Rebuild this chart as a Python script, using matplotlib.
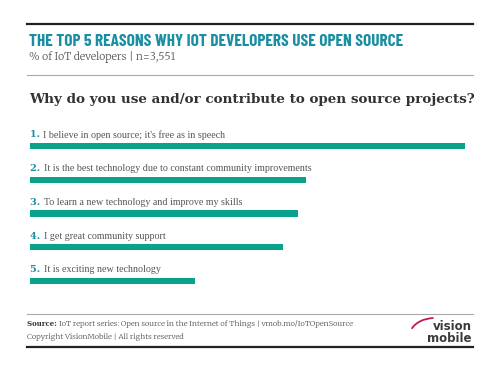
import matplotlib
matplotlib.use("Agg")
import matplotlib.pyplot as plt
from matplotlib import font_manager as fm
from matplotlib.patches import Arc

# data (bar lengths, relative)
numbers = ["1.", "2.", "3.", "4.", "5."]
reasons = [
    "I believe in open source; it's free as in speech",
    "It is the best technology due to constant community improvements",
    "To learn a new technology and improve my skills",
    "I get great community support",
    "It is exciting new technology",
]
values = [52, 33, 32, 30.2, 19.7]

teal_bar = "#0ba28c"
teal_txt = "#1a8ea2"
grey = "#555555"

installed = set(f.name for f in fm.fontManager.ttflist)
if "Barlow Condensed" in installed:
    title_font, title_size = "Barlow Condensed", 12.4
else:
    title_font, title_size = "DejaVu Sans", 7.6
serif = "Merriweather" if "Merriweather" in installed else "DejaVu Serif"

fig = plt.figure(figsize=(5, 3.65), dpi=100)
W, H = 500, 365

def fx(px):
    return px / W

def fy(py):
    return 1 - py / H

# rules
fig.add_artist(plt.Line2D([fx(27), fx(473)], [fy(24), fy(24)], color="#222222", lw=1.6))
fig.add_artist(plt.Line2D([fx(27), fx(473)], [fy(75), fy(75)], color="#aaaaaa", lw=0.8))
fig.add_artist(plt.Line2D([fx(27), fx(473)], [fy(314), fy(314)], color="#aaaaaa", lw=0.8))
fig.add_artist(plt.Line2D([fx(27), fx(473)], [fy(347), fy(347)], color="#222222", lw=1.6))

# headings
fig.text(fx(29), fy(42), "THE TOP 5 REASONS WHY IOT DEVELOPERS USE OPEN SOURCE",
         family=title_font, weight="bold", fontsize=title_size, color=teal_txt, va="center")
fig.text(fx(29), fy(57), "% of IoT developers | n=3,551", family=serif,
         fontsize=7.5, color=grey, va="center")
fig.text(fx(29), fy(100), "Why do you use and/or contribute to open source projects?",
         family="DejaVu Serif", weight="bold", fontsize=9.7, color="#333333", va="center")

# bars
ax = fig.add_axes([fx(30), fy(298), fx(465) - fx(30), (298 - 129) / H])
ypos = list(range(len(values)))
ax.barh(ypos, values, height=0.18, color=teal_bar)
ax.set_xlim(0, max(values))
ax.set_ylim(len(values) - 0.5, -0.5)
ax.axis("off")

for i in ypos:
    t = ax.text(0, i - 0.33, numbers[i] + " ", fontsize=7, color=teal_txt,
                weight="bold", family="DejaVu Serif", va="center")
    ax.annotate(reasons[i], xy=(1, 0.5), xycoords=t, va="center",
                fontsize=7.2, color=grey, family="Liberation Serif")

# footer
src = fig.text(fx(27), fy(324), "Source: ", family="DejaVu Serif", weight="bold",
               fontsize=5.0, color="#333333", va="center")
plt.annotate("IoT report series: Open source in the Internet of Things | vmob.mo/IoTOpenSource",
             xy=(1, 0.5), xycoords=src, va="center", fontsize=5.4,
             color=grey, family=serif, annotation_clip=False)
fig.text(fx(27), fy(337), "Copyright VisionMobile | All rights reserved",
         family=serif, fontsize=5.4, color=grey, va="center")

# logo
fig.text(fx(472), fy(327), "vision", family="DejaVu Sans", weight="bold",
         fontsize=8.5, color="#3a3a3a", ha="right", va="center")
fig.text(fx(472), fy(339), "mobile", family="DejaVu Sans", weight="bold",
         fontsize=8.5, color="#3a3a3a", ha="right", va="center")
lax = fig.add_axes([fx(405), fy(345), fx(70), 30 / H])
lax.set_xlim(0, 70)
lax.set_ylim(0, 30)
lax.add_patch(Arc((30, 10), 50, 34, theta1=95, theta2=165, color="#c2185b", lw=1.3))
lax.axis("off")

fig.savefig("out.png", dpi=100, facecolor="white")
